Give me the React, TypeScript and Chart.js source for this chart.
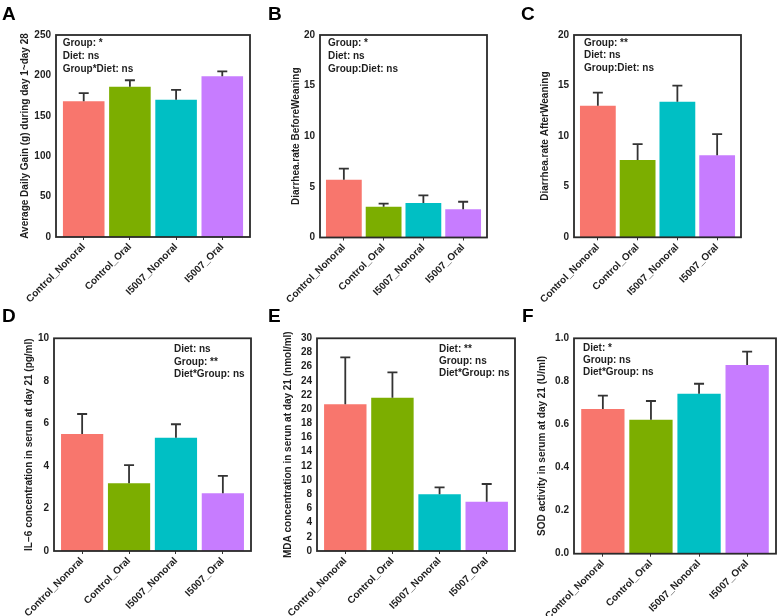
import React, { useEffect, useRef } from 'react';
import { Chart, registerables } from 'chart.js';

Chart.register(...registerables);

const FONT = "'Liberation Sans', Arial, sans-serif";
const TEXT = '#1e1e1e';

const categories = ['Control_Nonoral', 'Control_Oral', 'I5007_Nonoral', 'I5007_Oral'];
const barColors = ['#F8766D', '#7CAE00', '#00BFC4', '#C77CFF'];

// A: Average daily gain
const adgMeans = [168, 186, 170, 199];
const adgErrors = [10, 8, 12, 6];
const adgTicks = [0, 50, 100, 150, 200, 250];
const adgNotes = ['Group: *', 'Diet: ns', 'Group*Diet: ns'];

// B: Diarrhea rate before weaning
const beforeMeans = [5.7, 3.04, 3.4, 2.8];
const beforeErrors = [1.1, 0.3, 0.76, 0.73];
const beforeTicks = [0, 5, 10, 15, 20];
const beforeNotes = ['Group: *', 'Diet: ns', 'Group:Diet: ns'];

// C: Diarrhea rate after weaning
const afterMeans = [13.0, 7.64, 13.4, 8.1];
const afterErrors = [1.3, 1.58, 1.6, 2.1];
const afterTicks = [0, 5, 10, 15, 20];
const afterNotes = ['Group: **', 'Diet: ns', 'Group:Diet: ns'];

// D: IL-6
const il6Means = [5.5, 3.18, 5.33, 2.71];
const il6Errors = [0.94, 0.86, 0.63, 0.82];
const il6Ticks = [0, 2, 4, 6, 8, 10];
const il6Notes = ['Diet: ns', 'Group: **', 'Diet*Group: ns'];

// E: MDA
const mdaMeans = [20.7, 21.6, 8.0, 6.96];
const mdaErrors = [6.6, 3.6, 0.98, 2.49];
const mdaTicks = [0, 2, 4, 6, 8, 10, 12, 14, 16, 18, 20, 22, 24, 26, 28, 30];
const mdaNotes = ['Diet: **', 'Group: ns', 'Diet*Group: ns'];

// F: SOD
const sodMeans = [0.672, 0.622, 0.743, 0.876];
const sodErrors = [0.062, 0.087, 0.046, 0.062];
const sodTicks = [0, 0.2, 0.4, 0.6, 0.8, 1.0];
const sodNotes = ['Diet: *', 'Group: ns', 'Diet*Group: ns'];

type Layout = {
  cx: number; cy: number; cw: number; ch: number;
  L: number; T: number; R: number; B: number;
  titleX: number; noteX: number; noteY: number; noteGap: number;
};

type PanelDef = {
  letter: string; letterX: number; letterY: number;
  means: number[]; errors: number[]; ticks: number[]; decimals: number;
  title: string; notes: string[]; layout: Layout;
};

const panels: PanelDef[] = [
  {
    letter: 'A', letterX: 2, letterY: 3.9,
    means: adgMeans, errors: adgErrors, ticks: adgTicks, decimals: 0,
    title: 'Average Daily Gain (g) during day 1~day 28', notes: adgNotes,
    layout: { cx: 0, cy: 0, cw: 256, ch: 325, L: 56, T: 35, R: 250, B: 237, titleX: 25, noteX: 6.7, noteY: 8.5, noteGap: 12.7 },
  },
  {
    letter: 'B', letterX: 268, letterY: 3.9,
    means: beforeMeans, errors: beforeErrors, ticks: beforeTicks, decimals: 0,
    title: 'Diarrhea.rate BeforeWeaning', notes: beforeNotes,
    layout: { cx: 260, cy: 0, cw: 232, ch: 325, L: 320, T: 35, R: 487, B: 237.5, titleX: 36.7, noteX: 8, noteY: 8.5, noteGap: 13 },
  },
  {
    letter: 'C', letterX: 521, letterY: 3.9,
    means: afterMeans, errors: afterErrors, ticks: afterTicks, decimals: 0,
    title: 'Diarrhea.rate AfterWeaning', notes: afterNotes,
    layout: { cx: 515, cy: 0, cw: 262, ch: 325, L: 574, T: 35, R: 741, B: 237.3, titleX: 30, noteX: 10, noteY: 8, noteGap: 12.5 },
  },
  {
    letter: 'D', letterX: 2, letterY: 306,
    means: il6Means, errors: il6Errors, ticks: il6Ticks, decimals: 0,
    title: 'IL\u22126 concentration in serun at day 21 (pg/ml)', notes: il6Notes,
    layout: { cx: 0, cy: 325, cw: 256, ch: 291, L: 54, T: 338.3, R: 251, B: 551, titleX: 29, noteX: 120, noteY: 11, noteGap: 12.5 },
  },
  {
    letter: 'E', letterX: 268, letterY: 306,
    means: mdaMeans, errors: mdaErrors, ticks: mdaTicks, decimals: 0,
    title: 'MDA concentration in serun at day 21 (nmol/ml)', notes: mdaNotes,
    layout: { cx: 262, cy: 325, cw: 257, ch: 291, L: 317, T: 338.3, R: 515, B: 551, titleX: 26, noteX: 122, noteY: 11, noteGap: 12 },
  },
  {
    letter: 'F', letterX: 522, letterY: 306,
    means: sodMeans, errors: sodErrors, ticks: sodTicks, decimals: 1,
    title: 'SOD activity in serum at day 21 (U/ml)', notes: sodNotes,
    layout: { cx: 520, cy: 325, cw: 257, ch: 291, L: 574, T: 338.3, R: 776, B: 553.7, titleX: 22, noteX: 9, noteY: 10, noteGap: 12 },
  },
];

function Panel({ p }: { p: PanelDef }) {
  const ref = useRef<HTMLCanvasElement | null>(null);
  const lay = p.layout;

  useEffect(() => {
    const canvas = ref.current;
    if (!canvas) return;

    const decor = {
      id: 'decor' + p.letter,
      afterDatasetsDraw(chart: any) {
        const ctx = chart.ctx;
        const meta = chart.getDatasetMeta(0);
        const yScale = chart.scales.y;
        ctx.save();
        // error bars
        ctx.strokeStyle = '#333333';
        ctx.lineWidth = 1.8;
        ctx.lineCap = 'butt';
        meta.data.forEach((el: any, i: number) => {
          const top = yScale.getPixelForValue(p.means[i] + p.errors[i]);
          ctx.beginPath();
          ctx.moveTo(el.x, el.y);
          ctx.lineTo(el.x, top);
          ctx.moveTo(el.x - 5, top);
          ctx.lineTo(el.x + 5, top);
          ctx.stroke();
        });
        // panel box
        const a = chart.chartArea;
        ctx.strokeStyle = '#2a2a2a';
        ctx.lineWidth = 1.8;
        ctx.strokeRect(a.left, a.top, a.right - a.left, a.bottom - a.top);
        // annotations
        ctx.fillStyle = TEXT;
        ctx.font = `bold 10px ${FONT}`;
        ctx.textAlign = 'left';
        ctx.textBaseline = 'middle';
        p.notes.forEach((t, i) => {
          ctx.fillText(t, a.left + lay.noteX, a.top + lay.noteY + i * lay.noteGap);
        });
        ctx.restore();
      },
    };

    const chart = new Chart(canvas, {
      type: 'bar',
      data: {
        datasets: [
          {
            data: p.means.map((v, i) => ({ x: i + 1, y: v })) as any,
            backgroundColor: barColors,
            borderWidth: 0,
            barPercentage: 0.9,
            categoryPercentage: 1,
          },
        ],
      },
      options: {
        animation: false,
        responsive: false,
        devicePixelRatio: 1,
        events: [],
        layout: {
          padding: { top: lay.T - lay.cy, right: lay.cx + lay.cw - lay.R, left: 0, bottom: 0 },
        },
        plugins: { legend: { display: false }, tooltip: { enabled: false }, title: { display: false } },
        scales: {
          x: {
            type: 'linear',
            min: 0.4,
            max: 4.6,
            offset: false,
            afterBuildTicks: (scale: any) => {
              scale.ticks = categories.map((_, i) => ({ value: i + 1 }));
            },
            afterFit: (scale: any) => {
              scale.height = lay.cy + lay.ch - lay.B;
            },
            grid: { display: true, drawOnChartArea: false, drawTicks: true, tickLength: 3, color: '#333333', lineWidth: 1, offset: false },
            border: { display: false },
            ticks: {
              autoSkip: false,
              minRotation: 45,
              maxRotation: 45,
              padding: 1,
              color: TEXT,
              font: { family: FONT, size: 10, weight: 'bold' },
              callback: (_v: any, i: number) => categories[i],
            },
          },
          y: {
            type: 'linear',
            min: 0,
            max: p.ticks[p.ticks.length - 1],
            afterBuildTicks: (scale: any) => {
              scale.ticks = p.ticks.map((v) => ({ value: v }));
            },
            afterFit: (scale: any) => {
              scale.width = lay.L - lay.cx;
            },
            grid: { display: false, drawTicks: false, tickLength: 0 },
            border: { display: false },
            ticks: {
              autoSkip: false,
              padding: 5,
              color: TEXT,
              font: { family: FONT, size: 10, weight: 'bold' },
              callback: (v: any) => Number(v).toFixed(p.decimals),
            },
            title: {
              display: true,
              text: p.title,
              color: TEXT,
              font: { family: FONT, size: 10, weight: 'bold', lineHeight: 1.2 },
              padding: { top: lay.titleX - 6, bottom: 0 },
            },
          },
        },
      } as any,
      plugins: [decor],
    });
    return () => chart.destroy();
  }, []);

  return (
    <>
      <canvas
        ref={ref}
        width={lay.cw}
        height={lay.ch}
        style={{ position: 'absolute', left: lay.cx, top: lay.cy, width: lay.cw, height: lay.ch }}
      />
      <div
        style={{
          position: 'absolute',
          left: p.letterX,
          top: p.letterY,
          font: `bold 19px ${FONT}`,
          lineHeight: '19px',
          color: '#000',
        }}
      >
        {p.letter}
      </div>
    </>
  );
}

export default function App() {
  return (
    <div style={{ position: 'absolute', left: 0, top: 0, width: 777, height: 616, background: '#fff', overflow: 'hidden' }}>
      {panels.map((p) => (
        <Panel key={p.letter} p={p} />
      ))}
    </div>
  );
}
